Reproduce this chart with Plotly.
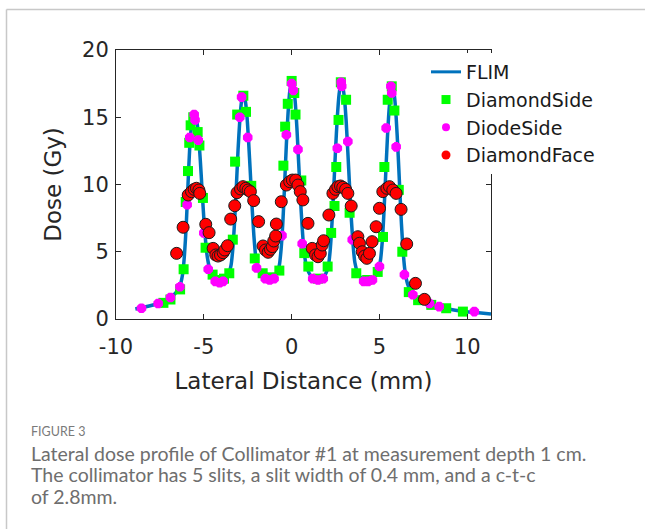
import plotly.graph_objects as go

# ---------------- data ----------------
flim_x = [-8.9, -8.0, -7.5, -7.0, -6.6, -6.35, -6.2, -6.1, -6.0, -5.9, -5.8, -5.7, -5.6, -5.5,
          -5.4, -5.3, -5.2, -5.1, -5.0, -4.9, -4.8, -4.65, -4.4, -4.15, -3.85, -3.6, -3.45,
          -3.35, -3.25, -3.15, -3.05, -2.95, -2.85, -2.75, -2.65, -2.55, -2.45, -2.35, -2.25,
          -2.15, -2.05, -1.9, -1.7, -1.4, -1.1, -0.85, -0.7, -0.6, -0.5, -0.4, -0.3, -0.2,
          -0.1, 0.0, 0.1, 0.2, 0.3, 0.4, 0.5, 0.6, 0.7, 0.85, 1.1, 1.4, 1.7, 1.95, 2.1, 2.2,
          2.3, 2.4, 2.5, 2.6, 2.7, 2.8, 2.9, 3.0, 3.1, 3.2, 3.3, 3.4, 3.5, 3.6, 3.8, 4.1, 4.4,
          4.7, 4.9, 5.05, 5.15, 5.25, 5.35, 5.45, 5.55, 5.65, 5.75, 5.85, 5.95, 6.05, 6.15,
          6.25, 6.35, 6.45, 6.6, 6.8, 7.1, 7.5, 8.0, 8.8, 9.7, 10.5, 11.35]
flim_y = [0.75, 1.0, 1.2, 1.5, 1.95, 2.5, 3.4, 4.8, 7.0, 10.0, 12.8, 14.4, 15.1, 15.2,
          14.7, 13.6, 11.8, 9.6, 7.5, 5.8, 4.6, 3.7, 3.1, 2.9, 3.0, 3.3, 4.0,
          5.2, 7.2, 9.8, 12.6, 14.8, 16.2, 16.6, 16.3, 15.2, 13.2, 10.8, 8.3,
          6.2, 4.7, 3.7, 3.2, 3.0, 3.05, 3.4, 4.0, 5.2, 7.2, 10.0, 13.0, 15.4,
          17.0, 17.6, 17.3, 16.2, 14.2, 11.6, 9.0, 6.8, 5.1, 3.9, 3.2, 3.0, 3.05, 3.4, 4.0, 5.2,
          7.2, 9.8, 12.6, 15.0, 16.7, 17.5, 17.3, 16.5, 14.8, 12.4, 9.8, 7.4, 5.5, 4.2, 3.3, 2.95, 2.9,
          3.1, 3.5, 4.3, 5.6, 7.8, 10.6, 13.4, 15.6, 16.9, 17.2, 16.6, 15.0, 12.6, 9.8,
          7.1, 5.0, 3.6, 2.6, 2.0, 1.55, 1.25, 1.0, 0.78, 0.58, 0.48, 0.38]

dside_x = [-7.3, -6.9, -6.35, -6.15, -6.03, -5.9, -5.83, -5.75, -5.6, -5.35, -5.25, -5.05, -4.9,
           -4.5, -4.2, -3.85, -3.55, -3.35, -3.22, -3.1, -2.75, -2.6, -2.3, -2.1, -1.65, -1.2,
           -0.7, -0.47, -0.37, -0.22, 0.0, 0.15, 0.22, 0.55, 0.72, 0.95, 1.5, 2.05, 2.25, 2.44,
           2.54, 2.67, 2.8, 3.1, 3.3, 3.68, 4.3, 4.9, 5.2, 5.28, 5.47, 5.7, 5.85, 6.1, 6.3,
           6.67, 7.2, 7.95, 8.8, 9.75]
dside_y = [1.2, 1.45, 2.2, 3.7, 8.7, 11.0, 13.1, 14.4, 15.0, 13.9, 12.9, 9.0, 5.3,
           3.3, 2.9, 3.0, 3.4, 5.9, 11.7, 15.2, 16.6, 15.4, 9.9, 4.5, 3.4, 3.1,
           3.6, 11.4, 14.3, 16.0, 17.7, 16.8, 15.2, 10.3, 4.9, 3.9, 3.0, 3.9, 6.4, 8.4,
           11.3, 14.8, 17.6, 16.3, 7.9, 3.4, 2.9, 3.5, 6.1, 11.3, 16.3, 17.3, 15.5, 9.6, 5.0,
           2.0, 1.4, 1.05, 0.8, 0.55]

diode_x = [-8.55, -7.6, -6.9, -6.36, -5.95, -5.8, -5.55, -5.5, -5.32, -5.0, -4.75, -4.35, -4.1,
           -3.9, -2.95, -2.85, -2.5, -2.0, -1.5, -1.25, -1.0, -0.55, -0.3, 0.0, 0.1, 0.36, 0.6,
           1.2, 1.5, 1.8, 2.6, 2.82, 2.85, 3.2, 3.45, 4.1, 4.35, 4.6, 5.0, 5.38, 5.65, 5.7,
           5.95, 6.42, 6.9, 7.85, 8.4, 10.4]
diode_y = [0.8, 1.15, 1.6, 2.4, 8.5, 13.5, 15.2, 14.8, 13.3, 6.4, 3.7, 2.8, 2.7,
           2.8, 15.0, 16.5, 13.5, 3.8, 3.0, 2.9, 3.0, 6.2, 13.7, 17.5, 17.0, 12.6, 5.6,
           3.0, 2.9, 3.0, 12.7, 17.6, 17.3, 13.2, 5.9, 2.8, 2.8, 2.9, 3.9, 14.2, 17.3, 16.8,
           12.8, 3.3, 1.8, 1.15, 0.92, 0.55]

dface_x = [-6.55, -6.18, -5.89, -5.7, -5.55, -5.42, -5.28, -5.23, -4.89, -4.7, -4.47, -4.32,
           -4.19, -4.05, -3.9, -3.81, -3.65, -3.47, -3.24, -3.11, -2.91, -2.77, -2.61, -2.48,
           -2.35, -2.16, -1.88, -1.63, -1.49, -1.34, -1.21, -1.1, -1.02, -0.91, -0.87, -0.59,
           -0.3, -0.11, 0.04, 0.23, 0.36, 0.49, 0.64, 0.93, 1.17, 1.36, 1.5, 1.63, 1.74, 1.82,
           2.12, 2.35, 2.5, 2.63, 2.78, 2.91, 3.07, 3.2, 3.39, 3.77, 3.86, 4.02, 4.15, 4.28,
           4.43, 4.58, 4.81, 5.0, 5.19, 5.42, 5.57, 5.76, 5.95, 6.23, 6.55, 7.05, 7.56]
dface_y = [4.88, 6.82, 9.22, 9.47, 9.64, 9.72, 9.59, 9.34, 7.04, 6.42, 5.25, 4.76,
           4.68, 4.76, 4.93, 5.13, 5.45, 7.43, 8.42, 9.39, 9.67, 9.84, 9.72, 9.59,
           9.47, 8.8, 7.24, 5.43, 5.13, 4.96, 5.18, 5.38, 5.8, 6.17, 7.06, 8.72,
           9.96, 10.21, 10.33, 10.33, 9.96, 9.47, 8.85, 7.11, 5.25, 4.76, 4.63, 4.88, 5.5, 5.82,
           7.73, 9.34, 9.64, 9.84, 9.89, 9.79, 9.64, 9.34, 8.4, 6.12, 5.63, 5.0, 4.68, 4.51,
           4.88, 5.75, 6.86, 8.23, 9.47, 9.72, 9.84, 9.59, 9.34, 8.15, 5.58, 2.65, 1.46]

series_names = ["FLIM", "DiamondSide", "DiodeSide", "DiamondFace"]
x_ticks = [-10, -5, 0, 5, 10]
x_tick_labels = ["-10", "-5", "0", "5", "10"]
y_ticks = [0, 5, 10, 15, 20]
y_tick_labels = ["0", "5", "10", "15", "20"]
caption_head = "FIGURE 3"
caption_lines = ["Lateral dose profile of Collimator #1 at measurement depth 1 cm.",
                 "The collimator has 5 slits, a slit width of 0.4 mm, and a c-t-c",
                 "of 2.8mm."]

# ---------------- layout geometry (pixels) ----------------
W, H = 645, 529
L, R, T, B = 116, 491, 50, 319


def px(xp):
    return (xp - L) / (R - L)


def py(yp):
    return (B - yp) / (B - T)


FONT = "DejaVu Sans"
AX = "#262626"
BLUE, GREEN, MAGENTA, RED = "#0072BD", "#00FF00", "#FF00FF", "#FF0000"

fig = go.Figure()
# data traces (not in legend)
fig.add_trace(go.Scatter(x=flim_x, y=flim_y, mode="lines", showlegend=False,
                         line=dict(color=BLUE, width=3.5, shape="spline", smoothing=0.6)))
fig.add_trace(go.Scatter(x=dside_x, y=dside_y, mode="markers", showlegend=False,
                         marker=dict(symbol="square", size=10, color=GREEN, line=dict(width=0))))
fig.add_trace(go.Scatter(x=diode_x, y=diode_y, mode="markers", showlegend=False,
                         marker=dict(symbol="asterisk-open", size=8, color=MAGENTA,
                                     line=dict(width=4, color=MAGENTA))))
fig.add_trace(go.Scatter(x=dface_x, y=dface_y, mode="markers", showlegend=False,
                         marker=dict(symbol="circle", size=12, color=RED,
                                     line=dict(width=1, color="#1a1a1a"))))

# legend-only entries with the smaller legend glyphs of the reference
fig.add_trace(go.Scatter(x=[None], y=[None], mode="lines", name=series_names[0],
                         line=dict(color=BLUE, width=3), legendgroup="a"))
fig.add_trace(go.Scatter(x=[None], y=[None], mode="markers", name=series_names[1],
                         marker=dict(symbol="square", size=9, color=GREEN), legendgroup="b"))
fig.add_trace(go.Scatter(x=[None], y=[None], mode="markers", name=series_names[2],
                         marker=dict(symbol="circle", size=8, color=MAGENTA), legendgroup="c"))
fig.add_trace(go.Scatter(x=[None], y=[None], mode="markers", name=series_names[3],
                         marker=dict(symbol="circle", size=9, color=RED), legendgroup="d"))

axis_common = dict(showline=True, linecolor=AX, linewidth=1, mirror="ticks",
                   ticks="inside", ticklen=5, tickcolor=AX, tickwidth=1,
                   showgrid=False, zeroline=False,
                   tickfont=dict(family=FONT, size=21, color=AX))

fig.update_xaxes(range=[-10, 11.35], tickvals=x_ticks, ticktext=x_tick_labels, ticklabelstandoff=9,
                 title=dict(text="Lateral Distance (mm)", font=dict(family=FONT, size=23, color=AX), standoff=14),
                 **axis_common)
fig.update_yaxes(range=[0, 20], tickvals=y_ticks, ticktext=y_tick_labels, ticklabelstandoff=2,
                 title=dict(text="Dose (Gy)", font=dict(family=FONT, size=23, color=AX), standoff=14),
                 **axis_common)

shapes = [
    dict(type="line", xref="paper", yref="paper", x0=px(6.5), x1=px(660), y0=py(9.5), y1=py(9.5),
         line=dict(color="#c8c8c8", width=1.5)),
    dict(type="line", xref="paper", yref="paper", x0=px(6.5), x1=px(6.5), y0=py(9.5), y1=py(560),
         line=dict(color="#c8c8c8", width=1.5)),
]

annotations = [
    dict(text=caption_head, xref="paper", yref="paper", x=px(29), y=py(431), xanchor="left",
         yanchor="middle", showarrow=False, font=dict(family="Lato", size=12.5, color="#7a7a7a")),
]
for i, line in enumerate(caption_lines):
    annotations.append(dict(text=line, xref="paper", yref="paper", x=px(29), y=py(453 + 21.5 * i),
                            xanchor="left", yanchor="middle", showarrow=False,
                            font=dict(family="Lato", size=19.5, color="#6e6e6e")))

fig.update_layout(
    width=W, height=H,
    margin=dict(l=L, r=W - R, t=T, b=H - B, autoexpand=False),
    paper_bgcolor="white", plot_bgcolor="white",
    showlegend=True,
    legend=dict(x=px(426), y=py(53), xanchor="left", yanchor="top", bgcolor="white",
                font=dict(family=FONT, size=19, color="#1a1a1a"), tracegroupgap=3,
                traceorder="normal"),
    shapes=shapes, annotations=annotations,
)

fig.write_html("out.html")
